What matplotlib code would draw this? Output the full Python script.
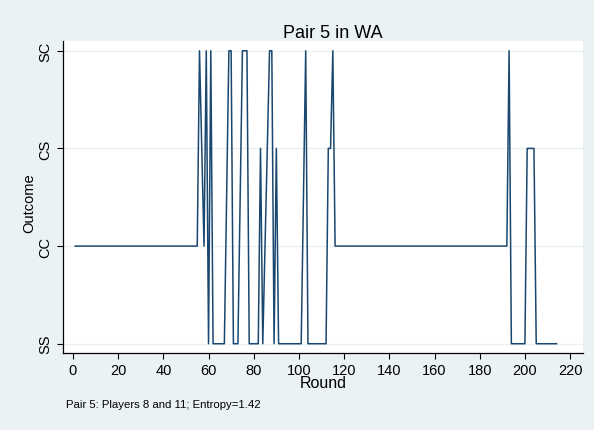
import matplotlib
matplotlib.use("Agg")
import matplotlib.pyplot as plt

plt.rcParams['font.family'] = ['Liberation Sans', 'DejaVu Sans']

# line vertices: round number and outcome code (0=SS, 1=CC, 2=CS, 3=SC)
rounds = [1, 55, 56, 58, 59, 60, 61, 62, 67, 69, 70, 71, 73, 75, 77, 78, 82, 83,
          84, 87, 88, 89, 90, 91, 101, 103, 104, 112, 113, 114, 115, 116, 192,
          193, 194, 200, 201, 204, 205, 214]
outcome = [1, 1, 3, 1, 3, 0, 3, 0, 0, 3, 3, 0, 0, 3, 3, 0, 0, 2,
           0, 3, 3, 0, 2, 0, 0, 3, 0, 0, 2, 2, 3, 1, 1,
           3, 0, 0, 2, 2, 0, 0]

outcome_labels = ["SS", "CC", "CS", "SC"]
x_ticks = list(range(0, 221, 20))

bg = "#eaf2f3"
line_col = "#1a476f"

fig = plt.figure(figsize=(5.94, 4.31), dpi=100, facecolor=bg)
W, H = 594, 431
ax = fig.add_axes([63 / W, (H - 354) / H, (583 - 63) / W, (354 - 42) / H])
ax.set_facecolor("white")

for v in range(4):
    ax.axhline(v, color=bg, lw=1.0, zorder=1)

ax.plot(rounds, outcome, color=line_col, lw=1.1, zorder=3)

ax.set_xlim(-4.4, 225.7)
ax.set_ylim(-0.095, 3.1)
ax.set_xticks(x_ticks)
ax.set_yticks(range(4))
ax.set_yticklabels(outcome_labels, rotation=90, va="center")
ax.tick_params(axis="both", direction="out", length=4.5, width=0.8,
               labelsize=10.5, colors="black", pad=3)

for side in ["top", "right"]:
    ax.spines[side].set_visible(False)
for side in ["left", "bottom"]:
    ax.spines[side].set_linewidth(0.9)

fig.text(333 / W, (H - 33) / H, "Pair 5 in WA", ha="center", va="center",
         fontsize=13)
fig.text(323 / W, (H - 384) / H, "Round", ha="center", va="center",
         fontsize=11.5)
fig.text(29 / W, (H - 203) / H, "Outcome", ha="center", va="center",
         rotation=90, fontsize=10.5)
fig.text(66 / W, (H - 405) / H, "Pair 5: Players 8 and 11; Entropy=1.42",
         ha="left", va="center", fontsize=8.2)

fig.savefig("out.png", dpi=100, facecolor=bg)
